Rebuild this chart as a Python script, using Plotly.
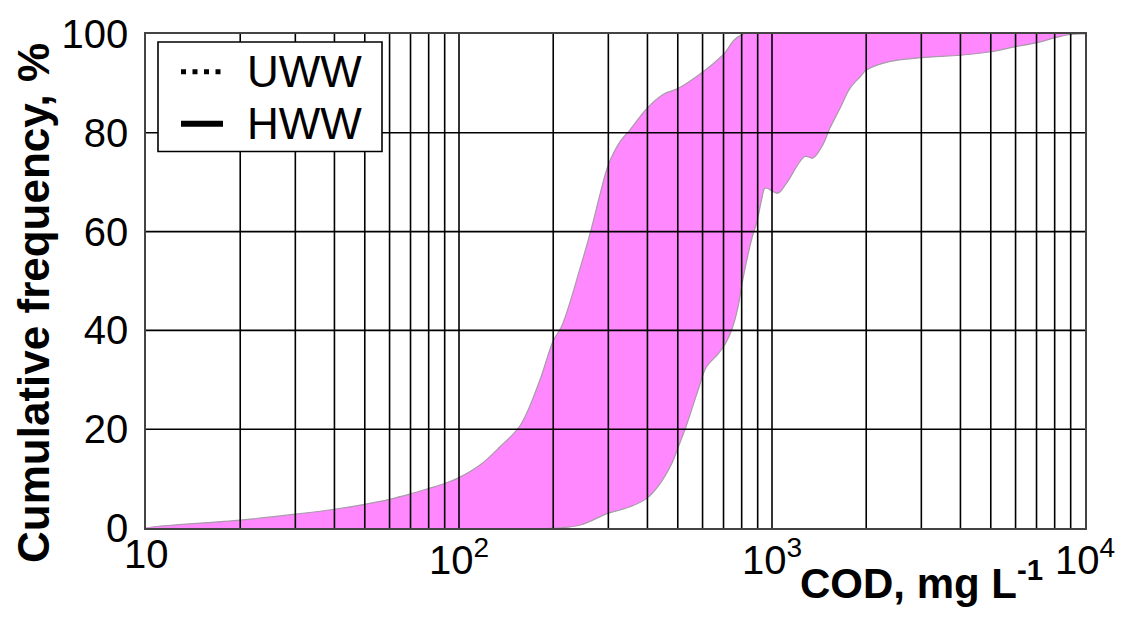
import math
import plotly.graph_objects as go

# Upper (left) boundary of the cumulative-frequency band: COD (mg/L) vs %
upper_cod = [10, 20, 30, 40, 50, 60, 70, 80, 90, 100, 117, 135, 157, 181, 200, 213,
             244, 265, 282, 300, 327, 352, 398, 450, 502, 601, 696, 809]
upper_pct = [0, 1.6, 2.8, 3.8, 4.8, 5.8, 6.9, 8.0, 9.0, 10.2, 12.8, 16.4, 20.8, 29.8, 37.9, 40.9,
             52.7, 60.7, 67.5, 73.5, 78.2, 80.6, 84.9, 87.8, 89.0, 92.3, 95.7, 100]

# Lower (right) boundary of the band
lower_cod = [10, 205, 244, 300, 352, 398, 439, 478, 502, 533, 580, 616, 672, 714, 748, 778,
             809, 863, 896, 929, 951, 1045, 1113, 1274, 1353, 1454, 1530, 1648, 1774, 1910,
             2003, 2365, 3000, 4000, 5000, 5950, 6960, 8000, 8980, 10000]
lower_pct = [0, 0, 0.6, 3.0, 4.3, 6.0, 9.0, 13.0, 16.4, 20.8, 27.8, 32.5, 35.2, 37.6, 40.6, 44.6,
             50.7, 58.7, 62.1, 66.8, 68.8, 67.8, 69.8, 75.2, 74.9, 77.6, 80.9, 84.9, 89.0, 91.3,
             92.7, 94.4, 95.2, 95.7, 96.4, 97.4, 98.2, 99.2, 99.9, 100]

# Axis ticks
x_tick_vals = [10, 100, 1000, 10000]
x_tick_text = ["10", "10<sup>2</sup>", "10<sup>3</sup>", "10<sup>4</sup>"]
y_tick_vals = [0, 20, 40, 60, 80, 100]
x_grid_vals = [m * d for d in (10, 100, 1000) for m in range(1, 10)][1:]
y_grid_vals = [20, 40, 60, 80]

# Legend entries: label and line dash
legend_names = ["UWW", "HWW"]
legend_dashes = ["5px,6.5px", "solid"]
legend_widths = [5, 6]

FONT = "Liberation Sans, Arial, sans-serif"

# Plot-area geometry in pixels (used to place paper-referenced items)
L, R, T, B = 146, 1085, 32, 528


def px_x(px):
    return (px - L) / (R - L)


def px_y(py):
    return (B - py) / (B - T)


fig = go.Figure()

# Closed band: upper boundary out to 10^4, then lower boundary back to the start
band_x = upper_cod + [10000] + lower_cod[::-1]
band_y = upper_pct + [100] + lower_pct[::-1]
fig.add_trace(go.Scatter(
    x=band_x, y=band_y, mode="lines", fill="toself",
    fillcolor="#ff88ff",
    line=dict(color="#a89aa8", width=1.2, shape="spline", smoothing=1.0),
    showlegend=False, hoverinfo="skip",
))

# Grid drawn over the band
shapes = []
for v in x_grid_vals:
    shapes.append(dict(type="line", xref="x", yref="paper", x0=v, x1=v, y0=0, y1=1,
                       line=dict(color="black", width=1.6), layer="above"))
for v in y_grid_vals:
    shapes.append(dict(type="line", xref="paper", yref="y", x0=0, x1=1, y0=v, y1=v,
                       line=dict(color="black", width=1.6), layer="above"))

# Legend box with line samples
shapes.append(dict(type="rect", xref="paper", yref="paper",
                   x0=px_x(158), x1=px_x(382), y0=px_y(150), y1=px_y(40),
                   fillcolor="white", line=dict(color="black", width=1.6), layer="above"))
annotations = []
row_y = [70, 122]
for name, dash, w, ry in zip(legend_names, legend_dashes, legend_widths, row_y):
    shapes.append(dict(type="line", xref="paper", yref="paper",
                       x0=px_x(181), x1=px_x(223), y0=px_y(ry), y1=px_y(ry),
                       line=dict(color="black", width=w, dash=dash), layer="above"))
    annotations.append(dict(text=name, xref="paper", yref="paper",
                            x=px_x(245), y=px_y(ry), xanchor="left", yanchor="middle",
                            showarrow=False, font=dict(size=44, family=FONT, color="black")))

# X tick labels placed just under the axis (log axis: annotation x is log10 of the value)
for v, t in zip(x_tick_vals, x_tick_text):
    annotations.append(dict(text=t, xref="x", yref="paper", x=math.log10(v),
                            y=px_y(530), xanchor="center", yanchor="top",
                            showarrow=False, font=dict(size=40, family=FONT, color="black")))

annotations += [
    dict(text="<b>COD, mg L<sup>-1</sup></b>", xref="paper", yref="paper",
         x=px_x(1045), y=px_y(580), xanchor="right", yanchor="middle",
         showarrow=False, font=dict(size=42, family=FONT, color="black")),
    dict(text="<b>Cumulative frequency, %</b>", xref="paper", yref="paper",
         x=px_x(34), y=px_y(302), xanchor="center", yanchor="middle",
         textangle=-90, showarrow=False, font=dict(size=44, family=FONT, color="black")),
]

fig.update_layout(
    width=1126, height=624,
    margin=dict(l=L, r=1126 - R, t=T, b=624 - B),
    paper_bgcolor="white", plot_bgcolor="white",
    font=dict(family=FONT, color="black"),
    shapes=shapes,
    annotations=annotations,
    showlegend=False,
)

fig.update_xaxes(
    type="log", range=[1, 4],
    tickvals=x_tick_vals, showticklabels=False,
    showgrid=False, zeroline=False, ticks="",
    showline=True, linecolor="#444", linewidth=1.6, mirror=True,
    layer="above traces",
)
fig.update_yaxes(
    range=[0, 100], tickvals=y_tick_vals,
    tickfont=dict(size=40, family=FONT, color="black"),
    showgrid=False, zeroline=False, ticks="",
    showline=True, linecolor="#444", linewidth=1.6, mirror=True,
    ticklabelstandoff=8, layer="above traces",
)

fig.write_html("out.html")
